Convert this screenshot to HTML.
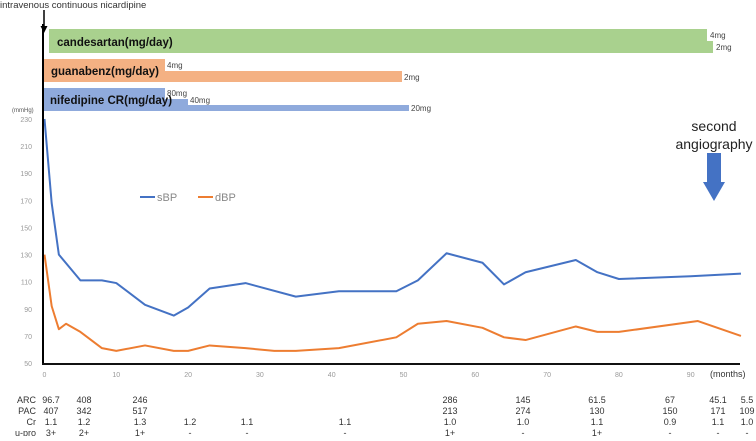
<!DOCTYPE html>
<html><head><meta charset="utf-8"><style>
body{margin:0;background:#fff;font-family:"Liberation Sans",sans-serif;}
svg text{font-family:"Liberation Sans",sans-serif;}
</style></head><body>
<svg id="c" width="756" height="436" xmlns="http://www.w3.org/2000/svg">
<text x="0" y="8" font-size="9.5" fill="#333">intravenous continuous nicardipine</text>
<line x1="44" y1="10" x2="44" y2="28" stroke="#000" stroke-width="1.5"/>
<polygon points="40.5,26 47.5,26 44,33" fill="#000"/>
<rect x="49" y="29" width="658" height="24" fill="#a9d18e"/>
<rect x="707" y="41" width="6" height="12" fill="#a9d18e"/>
<text x="57" y="46" font-size="11.5" font-weight="bold" fill="#111">candesartan(mg/day)</text>
<text x="710" y="38" font-size="8" fill="#444">4mg</text>
<text x="716" y="50" font-size="8" fill="#444">2mg</text>
<rect x="44" y="59" width="121" height="23" fill="#f4b183"/>
<rect x="165" y="71" width="237" height="11" fill="#f4b183"/>
<text x="51" y="75" font-size="11.5" font-weight="bold" fill="#111">guanabenz(mg/day)</text>
<text x="167" y="68" font-size="8" fill="#444">4mg</text>
<text x="404" y="80" font-size="8" fill="#444">2mg</text>
<rect x="44" y="88" width="121" height="23" fill="#8faadc"/>
<rect x="165" y="99" width="23" height="12" fill="#8faadc"/>
<rect x="188" y="105" width="221" height="6" fill="#8faadc"/>
<text x="50" y="104" font-size="11.5" font-weight="bold" fill="#111">nifedipine CR(mg/day)</text>
<text x="167" y="96" font-size="8" fill="#444">80mg</text>
<text x="190" y="103" font-size="8" fill="#444">40mg</text>
<text x="411" y="111" font-size="8" fill="#444">20mg</text>
<text x="12" y="112" font-size="6" fill="#555">(mmHg)</text>
<text x="714" y="131" font-size="14" fill="#222" text-anchor="middle">second</text>
<text x="714" y="149" font-size="14" fill="#222" text-anchor="middle">angiography</text>
<rect x="707" y="153" width="14" height="30" fill="#4472c4"/>
<polygon points="703,182 725,182 714,201" fill="#4472c4"/>
<line x1="140" y1="197" x2="155" y2="197" stroke="#4472c4" stroke-width="2"/>
<text x="157" y="201" font-size="11" fill="#888">sBP</text>
<line x1="198" y1="197" x2="213" y2="197" stroke="#ed7d31" stroke-width="2"/>
<text x="215" y="201" font-size="11" fill="#888">dBP</text>
<g id="plot"></g>
<line x1="43" y1="24" x2="43" y2="364" stroke="#000" stroke-width="2"/>
<line x1="42" y1="364" x2="740" y2="364" stroke="#111" stroke-width="2"/>
<text x="710" y="377" font-size="9" fill="#333">(months)</text>
<g font-size="9" fill="#333" id="tbl"></g>
</svg>
<script>
const sbpMonths=[0,1,2,5,8,10,14,18,20,23,28,35,41,49,52,56,61,64,67,74,77,80,90,97];
const sbpValues=[230,168,130,111,111,109,93,85,91,105,109,99,103,103,111,131,124,108,117,126,117,112,114,116];
const dbpMonths=[0,1,2,3,5,8,10,14,18,20,23,28,32,35,41,49,52,56,61,64,67,74,77,80,91,97];
const dbpValues=[130,92,75,79,73,61,59,63,59,59,63,61,59,59,61,69,79,81,76,69,67,77,73,73,81,70];
const yTicks=[50,70,90,110,130,150,170,190,210,230];
const xTicks=[0,10,20,30,40,50,60,70,80,90];
const NS='http://www.w3.org/2000/svg';
function X(m){return 44.5+m*7.18;}
function Y(v){return 119+(230-v)*1.356;}
const plot=document.getElementById('plot');
function mk(t,a,p){const e=document.createElementNS(NS,t);for(const k in a)e.setAttribute(k,a[k]);(p||plot).appendChild(e);return e;}
yTicks.forEach(v=>{const t=mk('text',{x:32,y:Y(v)+3,'font-size':7,fill:'#999','text-anchor':'end'});t.textContent=v;

});
xTicks.forEach(v=>{const t=mk('text',{x:X(v),y:377,'font-size':7,fill:'#999','text-anchor':'middle'});t.textContent=v;

});
function line(ms,vs,c,n){const p=mk('polyline',{points:ms.map((m,i)=>X(m)+','+Y(vs[i])).join(' '),fill:'none',stroke:c,'stroke-width':2,'stroke-linejoin':'round'});

}
line(sbpMonths,sbpValues,'#4472c4','sbp-line');
line(dbpMonths,dbpValues,'#ed7d31','dbp-line');
const tbl=document.getElementById('tbl');
const rows=[
['ARC',[[51,'96.7'],[84,'408'],[140,'246'],[450,'286'],[523,'145'],[597,'61.5'],[670,'67'],[718,'45.1'],[747,'5.5']]],
['PAC',[[51,'407'],[84,'342'],[140,'517'],[450,'213'],[523,'274'],[597,'130'],[670,'150'],[718,'171'],[747,'109']]],
['Cr',[[51,'1.1'],[84,'1.2'],[140,'1.3'],[190,'1.2'],[247,'1.1'],[345,'1.1'],[450,'1.0'],[523,'1.0'],[597,'1.1'],[670,'0.9'],[718,'1.1'],[747,'1.0']]],
['u-pro',[[51,'3+'],[84,'2+'],[140,'1+'],[190,'-'],[247,'-'],[345,'-'],[450,'1+'],[523,'-'],[597,'1+'],[670,'-'],[718,'-'],[747,'-']]]];
rows.forEach((r,i)=>{const y=403+i*11;
const l=mk('text',{x:36,y:y,'text-anchor':'end'},tbl);l.textContent=r[0];


r[1].forEach(c=>{const t=mk('text',{x:c[0],y:y,'text-anchor':'middle'},tbl);t.textContent=c[1];

});});
</script>
</body></html>
